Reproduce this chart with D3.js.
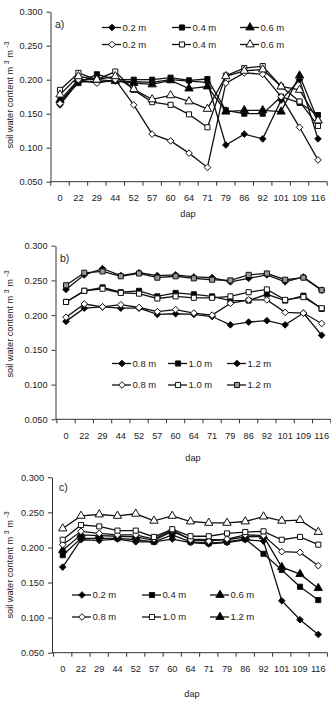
<!DOCTYPE html>
<html>
<head>
<meta charset="utf-8">
<script src="https://cdn.jsdelivr.net/npm/d3@7"></script>
<style>
body { margin: 0; background: #fff; }
svg { display: block; font-family: "Liberation Sans", Arial, sans-serif; }
</style>
</head>
<body>
<div id="chart"></div>
<script>
var days = ["0", "22", "29", "44", "52", "57", "60", "64", "71", "79", "86", "92", "101", "109", "116"];
var yTicks = [0.05, 0.10, 0.15, 0.20, 0.25, 0.30];

// panel a) two sets of 0.2 / 0.4 / 0.6 m
var aLabels = ["0.2 m", "0.4 m", "0.6 m", "0.2 m", "0.4 m", "0.6 m"];
var a1 = [0.163, 0.197, 0.197, 0.198, 0.197, 0.196, 0.200, 0.198, 0.196, 0.104, 0.120, 0.113, 0.170, 0.200, 0.113];
var a2 = [0.168, 0.195, 0.208, 0.200, 0.200, 0.200, 0.203, 0.199, 0.201, 0.155, 0.150, 0.150, 0.175, 0.166, 0.148];
var a3 = [0.170, 0.200, 0.200, 0.198, 0.195, 0.193, 0.199, 0.187, 0.190, 0.153, 0.155, 0.155, 0.153, 0.206, 0.140];
var a4 = [0.165, 0.200, 0.195, 0.200, 0.163, 0.120, 0.110, 0.092, 0.071, 0.195, 0.210, 0.208, 0.175, 0.130, 0.082];
var a5 = [0.185, 0.210, 0.200, 0.212, 0.185, 0.167, 0.163, 0.149, 0.130, 0.206, 0.217, 0.220, 0.190, 0.168, 0.132];
var a6 = [0.178, 0.205, 0.200, 0.205, 0.186, 0.171, 0.177, 0.168, 0.157, 0.205, 0.213, 0.215, 0.190, 0.185, 0.140];

// panel b) 0.8 / 1.0 / 1.2 m
var bLabels = ["0.8 m", "1.0 m", "1.2 m", "0.8 m", "1.0 m", "1.2 m"];
var b1 = [0.191, 0.210, 0.212, 0.210, 0.210, 0.201, 0.202, 0.201, 0.198, 0.186, 0.190, 0.192, 0.186, 0.203, 0.171];
var b2 = [0.219, 0.235, 0.240, 0.233, 0.235, 0.227, 0.232, 0.230, 0.227, 0.221, 0.221, 0.230, 0.221, 0.228, 0.209];
var b3 = [0.237, 0.258, 0.267, 0.257, 0.261, 0.257, 0.258, 0.255, 0.254, 0.248, 0.253, 0.258, 0.248, 0.255, 0.236];
var b4 = [0.197, 0.216, 0.212, 0.215, 0.211, 0.205, 0.208, 0.203, 0.200, 0.217, 0.222, 0.222, 0.204, 0.203, 0.188];
var b5 = [0.219, 0.235, 0.238, 0.232, 0.231, 0.224, 0.227, 0.225, 0.225, 0.227, 0.233, 0.237, 0.222, 0.226, 0.210];
var b6 = [0.243, 0.261, 0.263, 0.256, 0.260, 0.254, 0.256, 0.253, 0.251, 0.250, 0.258, 0.260, 0.251, 0.254, 0.236];

// panel c) 0.2 ... 1.2 m
var cLabels = ["0.2 m", "0.4 m", "0.6 m", "0.8 m", "1.0 m", "1.2 m"];
var c1 = [0.172, 0.211, 0.210, 0.212, 0.208, 0.208, 0.212, 0.207, 0.205, 0.207, 0.211, 0.209, 0.124, 0.097, 0.076];
var c2 = [0.189, 0.213, 0.213, 0.213, 0.211, 0.208, 0.218, 0.208, 0.206, 0.208, 0.212, 0.191, 0.168, 0.144, 0.125];
var c3 = [0.196, 0.218, 0.217, 0.216, 0.215, 0.210, 0.223, 0.212, 0.211, 0.211, 0.215, 0.216, 0.172, 0.162, 0.142];
var c4 = [0.204, 0.223, 0.220, 0.218, 0.218, 0.212, 0.225, 0.211, 0.209, 0.212, 0.218, 0.217, 0.194, 0.193, 0.174];
var c5 = [0.211, 0.232, 0.230, 0.224, 0.224, 0.215, 0.226, 0.216, 0.216, 0.220, 0.222, 0.223, 0.211, 0.215, 0.204];
var c6 = [0.227, 0.245, 0.247, 0.245, 0.248, 0.238, 0.245, 0.237, 0.235, 0.235, 0.237, 0.244, 0.238, 0.239, 0.222];

var W = 331, H = 706;
var svg = d3.select("#chart").append("svg").attr("width", W).attr("height", H);

// square-ish diamond like the excel marker
var rhomb = {
    draw: function (ctx, size) {
        var r = Math.sqrt(size / 2);
        ctx.moveTo(0, -r);
        ctx.lineTo(r, 0);
        ctx.lineTo(0, r);
        ctx.lineTo(-r, 0);
        ctx.closePath();
    }
};

var shapes = {
    diamond: d3.symbol().type(rhomb).size(22),
    square: d3.symbol().type(d3.symbolSquare).size(26),
    triangle: d3.symbol().type(d3.symbolTriangle).size(30)
};

var panels = [
    {
        tag: "a)", left: 50.5, x0: 50.8, x1: 327.2, top: 11.7, bottom: 181.7,
        series: [a1, a2, a3, a4, a5, a6], labels: aLabels,
        shape: ["diamond", "square", "triangle", "diamond", "square", "triangle"],
        fill: ["#000", "#000", "#000", "#fff", "#fff", "#fff"],
        legX: [102, 172, 240], legY: [27.5, 44.5], tagX: 55, tagY: 28,
        titleY: 95, dapX: 188, dapY: 217
    },
    {
        tag: "b)", left: 55.5, x0: 56.9, x1: 330.8, top: 245.7, bottom: 419.3,
        series: [b1, b2, b3, b4, b5, b6], labels: bLabels,
        shape: ["diamond", "square", "diamond", "diamond", "square", "square"],
        fill: ["#000", "#000", "#000", "#fff", "#fff", "#999"],
        legX: [112, 168, 227], legY: [363.5, 385], tagX: 60, tagY: 262,
        titleY: 324, dapX: 193, dapY: 461
    },
    {
        tag: "c)", left: 52, x0: 53.6, x1: 327.4, top: 477.3, bottom: 652.7,
        series: [c1, c2, c3, c4, c5, c6], labels: cLabels,
        shape: ["diamond", "square", "triangle", "diamond", "square", "triangle"],
        fill: ["#000", "#000", "#000", "#fff", "#fff", "#fff"],
        legFill: ["#000", "#000", "#000", "#fff", "#fff", "#000"],
        legX: [72, 142, 210], legY: [595, 617], tagX: 59, tagY: 491,
        titleY: 565, dapX: 192, dapY: 697
    }
];

panels.forEach(function (p) {
    var x = d3.scaleBand().domain(days).range([p.x0, p.x1]);
    var y = d3.scaleLinear().domain([0.05, 0.30]).range([p.bottom, p.top]);
    var g = svg.append("g");
    var cx = function (d, i) { return x(days[i]) + x.bandwidth() / 2; };

    // y axis
    g.append("g")
        .attr("transform", "translate(" + p.left + ",0)")
        .call(d3.axisLeft(y).tickValues(yTicks).tickFormat(d3.format(".3f")).tickSize(4).tickSizeOuter(0).tickPadding(4))
        .call(function (ax) {
            ax.selectAll("text").attr("font-size", 9.2).attr("fill", "#222").attr("font-family", null);
            ax.selectAll("line,path").attr("stroke", "#333");
        });

    // x axis: labels centred in bands, ticks on band edges
    var xa = g.append("g")
        .attr("transform", "translate(0," + p.bottom + ")")
        .call(d3.axisBottom(x).tickSize(0).tickPadding(13));
    xa.select(".domain").remove();
    xa.selectAll("text").attr("font-size", 9.2).attr("fill", "#222").attr("font-family", null);
    xa.append("line").attr("x1", p.left).attr("x2", p.x1).attr("stroke", "#333");
    xa.selectAll(".edge")
        .data(days.concat(["end"]))
        .enter().append("line")
        .attr("class", "edge")
        .attr("x1", function (d) { return d == "end" ? p.x1 : x(d); })
        .attr("x2", function (d) { return d == "end" ? p.x1 : x(d); })
        .attr("y2", 4)
        .attr("stroke", "#333");

    // series lines
    var line = d3.line().x(cx).y(function (d) { return y(d); });
    p.series.forEach(function (s) {
        g.append("path").datum(s)
            .attr("d", line)
            .attr("fill", "none")
            .attr("stroke", "#111")
            .attr("stroke-width", 1.3);
    });

    // markers
    p.series.forEach(function (s, k) {
        g.selectAll(null).data(s).enter().append("path")
            .attr("transform", function (d, i) { return "translate(" + cx(d, i) + "," + y(d) + ")"; })
            .attr("d", shapes[p.shape[k]])
            .attr("fill", p.fill[k])
            .attr("stroke", "#111")
            .attr("stroke-width", 1);
    });

    // legend, 3 columns x 2 rows
    var lf = p.legFill || p.fill;
    p.labels.forEach(function (lab, k) {
        var lx = p.legX[k % 3], ly = p.legY[Math.floor(k / 3)];
        var lg = g.append("g").attr("transform", "translate(" + lx + "," + ly + ")");
        lg.append("line").attr("x1", 0).attr("x2", 19).attr("stroke", "#111").attr("stroke-width", 1.3);
        lg.append("path").attr("transform", "translate(10,0)").attr("d", shapes[p.shape[k]])
            .attr("fill", lf[k]).attr("stroke", "#111");
        lg.append("text").attr("x", 20.5).attr("dy", "0.35em")
            .attr("font-size", 9.5).attr("fill", "#222").text(lab);
    });

    // panel tag
    g.append("text").attr("x", p.tagX).attr("y", p.tagY)
        .attr("font-size", 10.5).attr("fill", "#222").text(p.tag);

    // x title
    g.append("text").attr("x", p.dapX).attr("y", p.dapY)
        .attr("text-anchor", "middle").attr("font-size", 9.2).attr("fill", "#222").text("dap");

    // y title with superscripts
    var t = g.append("text")
        .attr("transform", "translate(13," + p.titleY + ") rotate(-90)")
        .attr("text-anchor", "middle").attr("font-size", 9.2).attr("fill", "#222");
    t.append("tspan").text("soil water content m ");
    t.append("tspan").attr("dy", -4).attr("font-size", 7).text("3");
    t.append("tspan").attr("dy", 4).text(" m ");
    t.append("tspan").attr("dy", -4).attr("font-size", 7).text("-3");
});
</script>
</body>
</html>
